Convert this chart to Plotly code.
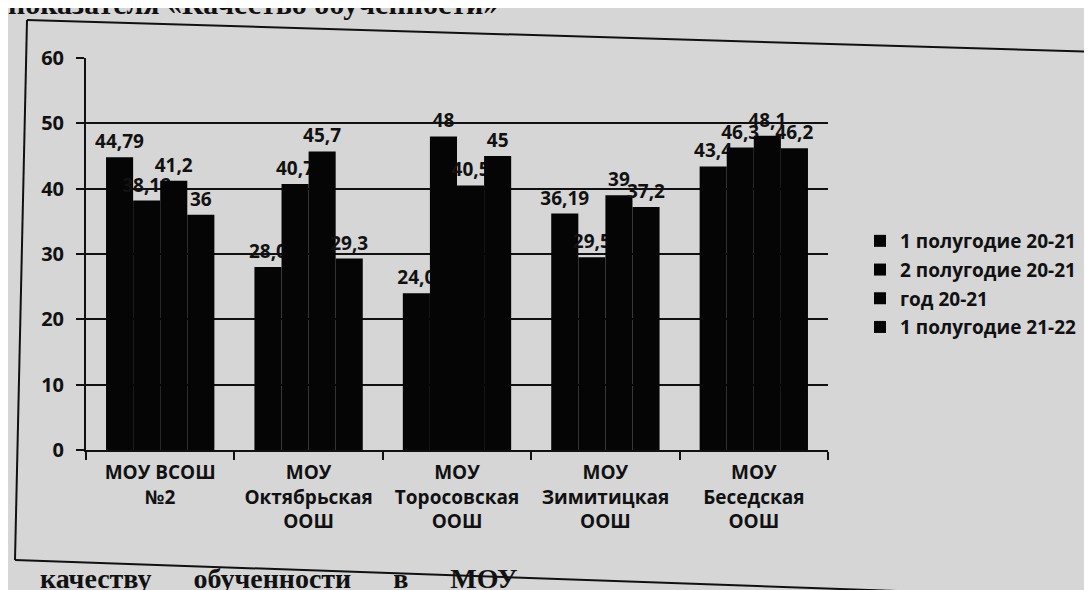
import plotly.graph_objects as go

# ---- data ----
categories = [
    "МОУ ВСОШ<br>№2",
    "МОУ<br>Октябрьская<br>ООШ",
    "МОУ<br>Торосовская<br>ООШ",
    "МОУ<br>Зимитицкая<br>ООШ",
    "МОУ<br>Беседская<br>ООШ",
]
series_names = ["1 полугодие 20-21", "2 полугодие 20-21", "год 20-21", "1 полугодие 21-22"]
s1 = [44.79, 28.0, 24.0, 36.19, 43.4]
s2 = [38.18, 40.7, 48, 29.5, 46.3]
s3 = [41.2, 45.7, 40.5, 39, 48.1]
s4 = [36, 29.3, 45, 37.2, 46.2]
y_ticks = [0, 10, 20, 30, 40, 50, 60]

W, H = 1092, 590
ML, MR, MT, MB = 78, W - 820, 50, H - 442
BG = "#d6d6d6"
FONT = "Open Sans"


def lab(v):
    return str(v).replace(".", ",")


fig = go.Figure()
for name, vals in zip(series_names, [s1, s2, s3, s4]):
    fig.add_trace(go.Bar(
        x=categories, y=vals, name=name, legendgroup=name,
        marker=dict(color="#050505", line=dict(width=0)),
        text=[lab(v) for v in vals], textposition="outside",
        constraintext="none", cliponaxis=False,
        textfont=dict(family=FONT, size=19, color="#111111", weight="bold"),
    ))


def px(x):
    return (x - ML) / (W - ML - MR)


def py(y):
    return (H - MB - y) / (H - MT - MB)


frame = [((19, 12), (1092, 44)), ((19, 12), (7, 552)), ((7, 552), (1092, 590))]
shapes = [dict(type="line", xref="paper", yref="paper",
               x0=px(a[0]), y0=py(a[1]), x1=px(b[0]), y1=py(b[1]),
               line=dict(color="#111111", width=2)) for a, b in frame]

annotations = [
    dict(text="показателя «Качество обученности»", xref="paper", yref="paper",
         x=px(492), y=py(14), xanchor="right", yanchor="bottom", showarrow=False,
         font=dict(family="Liberation Serif", size=30, color="#111111", weight="bold")),
    dict(text="качеству      обученности      в      МОУ", xref="paper", yref="paper",
         x=px(30), y=py(553), xanchor="left", yanchor="top", showarrow=False,
         font=dict(family="Liberation Serif", size=28, color="#111111", weight="bold")),
]

fig.update_layout(
    width=W, height=H,
    margin=dict(l=ML, r=MR, t=MT, b=MB, pad=0),
    paper_bgcolor=BG, plot_bgcolor=BG,
    barmode="group", bargap=0.27, bargroupgap=0,
    font=dict(family=FONT, size=19, color="#111111", weight="bold"),
    showlegend=True,
    legend=dict(x=px(852), y=py(214), xanchor="left", yanchor="top",
                bgcolor="rgba(0,0,0,0)", tracegroupgap=1,
                font=dict(family=FONT, size=19, color="#111111", weight="bold"),
                itemwidth=30),
    shapes=shapes, annotations=annotations,
    xaxis=dict(showline=True, linecolor="#111111", linewidth=2,
               ticks="outside", ticklen=8, tickwidth=2, tickcolor="#111111",
               tickson="boundaries", showgrid=False, ticklabelstandoff=4,
               tickfont=dict(family=FONT, size=19, color="#111111", weight="bold")),
    yaxis=dict(range=[0, 60], tickvals=y_ticks, showline=True, linecolor="#111111",
               linewidth=2, ticks="outside", ticklen=8, tickwidth=2, tickcolor="#111111",
               showgrid=True, gridcolor="#111111", gridwidth=2, zeroline=False,
               ticklabelstandoff=8,
               tickfont=dict(family=FONT, size=20, color="#111111", weight="bold")),
)

fig.write_html("out.html")
